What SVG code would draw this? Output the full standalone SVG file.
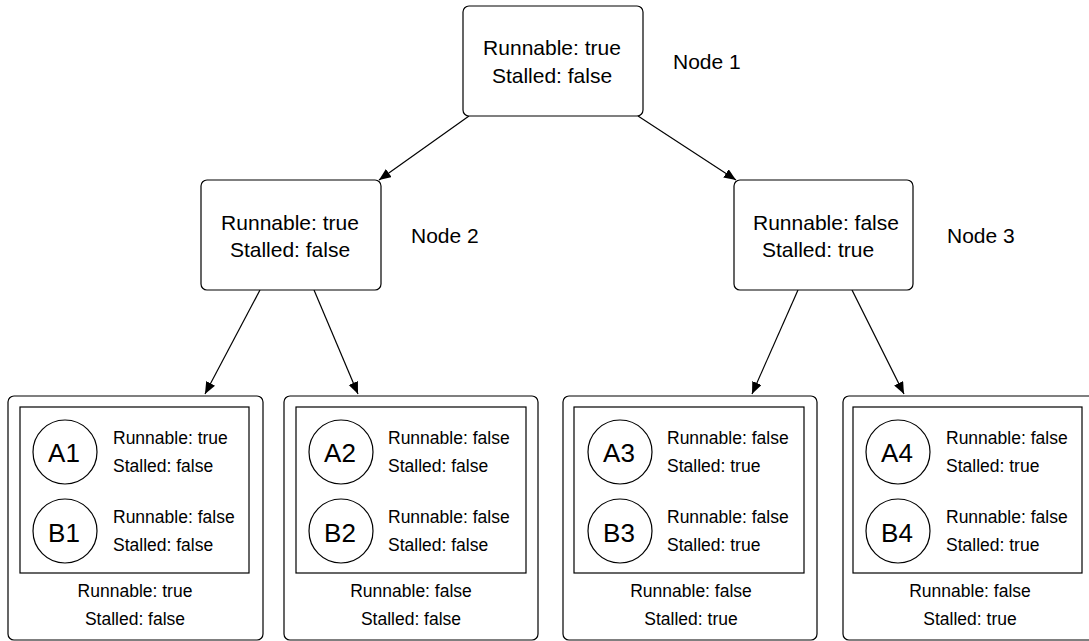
<svg xmlns="http://www.w3.org/2000/svg" width="1089" height="641" viewBox="0 0 1089 641">
  <defs>
    <style>
      .box { fill: #ffffff; stroke: #000000; stroke-width: 1.2; }
      .inner { fill: #ffffff; stroke: #000000; stroke-width: 1.2; }
      .circ { fill: #ffffff; stroke: #000000; stroke-width: 1.2; }
      .edge { fill: none; stroke: #000000; stroke-width: 1.2; marker-end: url(#arrow); }
      text { font-family: "Liberation Sans", Arial, Helvetica, sans-serif; fill: #000000; }
      .big { font-size: 21px; }
      .small { font-size: 17.5px; }
      .id { font-size: 26px; text-anchor: middle; }
      .mid { text-anchor: middle; }
    </style>
    <marker id="arrow" markerUnits="userSpaceOnUse" markerWidth="14" markerHeight="12" refX="12" refY="5" orient="auto">
      <path d="M0,0 L12,5 L0,10 z" fill="#000000"/>
    </marker>
  </defs>

  <!-- connectors -->
  <g id="connectors">
    <line class="edge" x1="469" y1="116" x2="379" y2="180"/>
    <line class="edge" x1="638" y1="116" x2="736" y2="180"/>
    <line class="edge" x1="260" y1="290" x2="205" y2="394"/>
    <line class="edge" x1="314" y1="290" x2="358" y2="394"/>
    <line class="edge" x1="798" y1="290" x2="752" y2="394"/>
    <line class="edge" x1="852" y1="290" x2="904" y2="394"/>
  </g>

  <!-- top level -->
  <g id="node1">
    <rect class="box" x="463" y="6" width="180" height="110" rx="6"/>
    <text class="big mid" x="552" y="55">Runnable: true</text>
    <text class="big mid" x="552" y="83">Stalled: false</text>
    <text class="big" x="673" y="69">Node 1</text>
  </g>

  <!-- middle level -->
  <g id="node2">
    <rect class="box" x="201" y="180" width="180" height="110" rx="6"/>
    <text class="big mid" x="290" y="230">Runnable: true</text>
    <text class="big mid" x="290" y="257">Stalled: false</text>
    <text class="big" x="411" y="243">Node 2</text>
  </g>

  <g id="node3">
    <rect class="box" x="734" y="180" width="179" height="110" rx="6"/>
    <text class="big" x="753" y="230">Runnable: false</text>
    <text class="big" x="762" y="257">Stalled: true</text>
    <text class="big" x="947" y="243">Node 3</text>
  </g>

  <!-- leaf containers -->
  <g id="leaf1" transform="translate(8,0)">
    <rect class="box" x="0" y="396" width="255" height="244" rx="6"/>
    <rect class="inner" x="12" y="407" width="229" height="166"/>
    <circle class="circ" cx="57" cy="452" r="32"/>
    <text class="id" x="56" y="462">A1</text>
    <circle class="circ" cx="57" cy="531" r="32"/>
    <text class="id" x="56" y="542">B1</text>
    <text class="small" x="105" y="444">Runnable: true</text>
    <text class="small" x="105" y="472">Stalled: false</text>
    <text class="small" x="105" y="523">Runnable: false</text>
    <text class="small" x="105" y="551">Stalled: false</text>
    <text class="small mid" x="127" y="597">Runnable: true</text>
    <text class="small mid" x="127" y="625">Stalled: false</text>
  </g>

  <g id="leaf2" transform="translate(284,0)">
    <rect class="box" x="0" y="396" width="254" height="244" rx="6"/>
    <rect class="inner" x="12" y="407" width="230" height="166"/>
    <circle class="circ" cx="57" cy="452" r="32"/>
    <text class="id" x="56" y="462">A2</text>
    <circle class="circ" cx="57" cy="531" r="32"/>
    <text class="id" x="56" y="542">B2</text>
    <text class="small" x="104" y="444">Runnable: false</text>
    <text class="small" x="104" y="472">Stalled: false</text>
    <text class="small" x="104" y="523">Runnable: false</text>
    <text class="small" x="104" y="551">Stalled: false</text>
    <text class="small mid" x="127" y="597">Runnable: false</text>
    <text class="small mid" x="127" y="625">Stalled: false</text>
  </g>

  <g id="leaf3" transform="translate(563,0)">
    <rect class="box" x="0" y="396" width="254" height="244" rx="6"/>
    <rect class="inner" x="11" y="407" width="230" height="166"/>
    <circle class="circ" cx="57" cy="452" r="32"/>
    <text class="id" x="56" y="462">A3</text>
    <circle class="circ" cx="57" cy="531" r="32"/>
    <text class="id" x="56" y="542">B3</text>
    <text class="small" x="104" y="444">Runnable: false</text>
    <text class="small" x="104" y="472">Stalled: true</text>
    <text class="small" x="104" y="523">Runnable: false</text>
    <text class="small" x="104" y="551">Stalled: true</text>
    <text class="small mid" x="128" y="597">Runnable: false</text>
    <text class="small mid" x="128" y="625">Stalled: true</text>
  </g>

  <g id="leaf4" transform="translate(843,0)">
    <rect class="box" x="0" y="396" width="255" height="244" rx="6"/>
    <rect class="inner" x="10" y="407" width="229" height="166"/>
    <circle class="circ" cx="55" cy="452" r="32"/>
    <text class="id" x="54" y="462">A4</text>
    <circle class="circ" cx="55" cy="531" r="32"/>
    <text class="id" x="54" y="542">B4</text>
    <text class="small" x="103" y="444">Runnable: false</text>
    <text class="small" x="103" y="472">Stalled: true</text>
    <text class="small" x="103" y="523">Runnable: false</text>
    <text class="small" x="103" y="551">Stalled: true</text>
    <text class="small mid" x="127" y="597">Runnable: false</text>
    <text class="small mid" x="127" y="625">Stalled: true</text>
  </g>
</svg>
